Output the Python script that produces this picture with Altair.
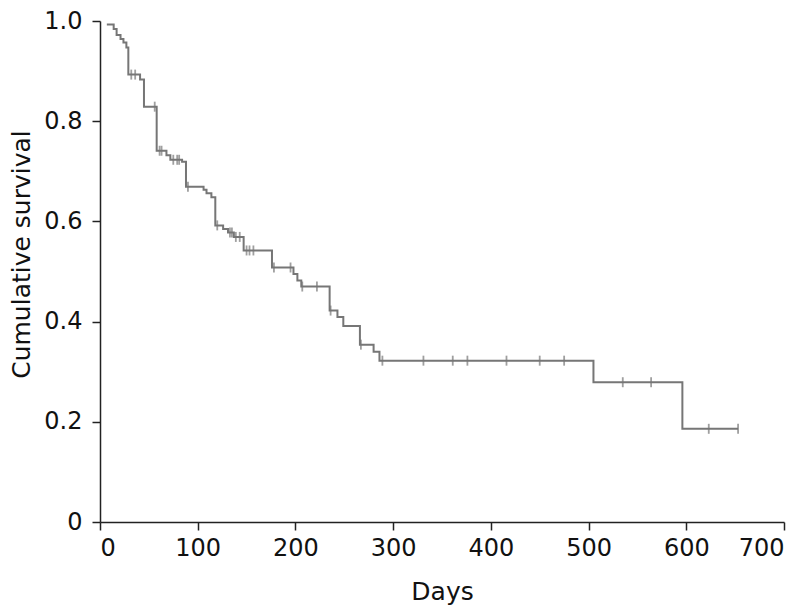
import altair as alt
import pandas as pd

# Kaplan-Meier step curve: (day, cumulative survival after the event)
event_days = [0, 7, 14, 17, 21, 24, 27, 29, 41, 45, 58, 68, 72, 84, 88, 106, 109, 114, 118,
              126, 131, 137, 147, 176, 198, 202, 206, 235, 243, 249, 266, 280, 286,
              505, 596, 653]
event_surv = [0.993, 0.993, 0.984, 0.972, 0.964, 0.957, 0.947, 0.893, 0.883, 0.829, 0.741,
              0.732, 0.723, 0.719, 0.669, 0.663, 0.656, 0.648, 0.592, 0.585, 0.578, 0.569,
              0.542, 0.508, 0.495, 0.482, 0.470, 0.422, 0.409, 0.391, 0.354, 0.340, 0.322,
              0.279, 0.186, 0.186]
event_start_day = 7

# Censored observations
censor_days = [32, 36, 56, 61, 63, 75, 79, 81, 90, 120, 133, 135, 139, 143, 150, 153, 157,
               178, 195, 207, 222, 236, 267, 289, 331, 361, 376, 416, 450, 475, 535, 564,
               623, 653]
censor_surv = [0.893, 0.893, 0.829, 0.741, 0.741, 0.723, 0.723, 0.723, 0.669, 0.592, 0.578,
               0.578, 0.569, 0.569, 0.542, 0.542, 0.542, 0.508, 0.508, 0.470, 0.470, 0.422,
               0.354, 0.322, 0.322, 0.322, 0.322, 0.322, 0.322, 0.322, 0.279, 0.279,
               0.186, 0.186]

x_ticks = [0, 100, 200, 300, 400, 500, 600, 700]
y_ticks = [0, 0.2, 0.4, 0.6, 0.8, 1.0]

line_df = pd.DataFrame({"day": event_days, "surv": event_surv})
line_df = line_df[line_df["day"] >= event_start_day]
cens_df = pd.DataFrame({"day": censor_days, "surv": censor_surv})

FONT = "DejaVu Sans"
GRAY = "#767676"

x_enc = alt.X("day:Q", scale=alt.Scale(domain=[0, 700], nice=False, zero=False),
              axis=alt.Axis(values=x_ticks, title="Days", grid=False, tickSize=8,
                            labelPadding=6, labelFontSize=24, titleFontSize=25,
                            titleFontWeight="normal", titleY=69, titleBaseline="middle",
                            labelFont=FONT, titleFont=FONT, domainColor="#222222",
                            tickColor="#222222", labelColor="#111111",
                            titleColor="#111111", domainWidth=1.5, tickWidth=1.5))
y_enc = alt.Y("surv:Q", scale=alt.Scale(domain=[0, 1], nice=False),
              axis=alt.Axis(values=y_ticks, title="Cumulative survival", grid=False,
                            tickSize=8, labelPadding=10, labelFontSize=24,
                            titleFontSize=25, titleFontWeight="normal",
                            labelExpr="datum.value == 0 ? '0' : format(datum.value, '.1f')",
                            titleX=-79, titleY=233, titleAlign="center",
                            titleBaseline="middle", labelFont=FONT, titleFont=FONT,
                            domainColor="#222222", tickColor="#222222",
                            labelColor="#111111", titleColor="#111111",
                            domainWidth=1.5, tickWidth=1.5))

line = alt.Chart(line_df).mark_line(interpolate="step-after", color=GRAY,
                                    strokeWidth=2).encode(x=x_enc, y=y_enc)
ticks = alt.Chart(cens_df).mark_tick(orient="vertical", color=GRAY, size=10,
                                     thickness=1.8).encode(x="day:Q", y="surv:Q")

chart = (line + ticks).properties(
    width=684, height=501,
    autosize=alt.AutoSizeParams(type="none"),
    padding={"left": 92, "top": 13, "right": 8, "bottom": 86},
    background="white",
).configure_view(strokeWidth=0)

chart.save("out.html", embed_options={"renderer": "svg", "actions": False})
